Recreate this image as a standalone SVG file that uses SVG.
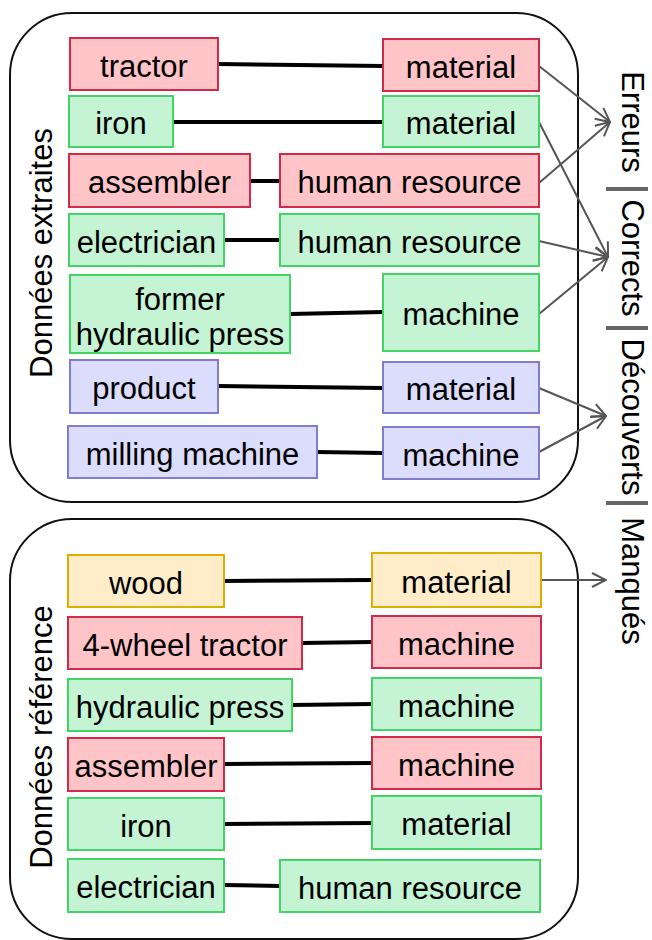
<svg xmlns="http://www.w3.org/2000/svg" width="652" height="940" viewBox="0 0 652 940">
<defs>
<style>
text{font-family:"Liberation Sans",Arial,sans-serif;font-size:31px;fill:#000;}
.lbl{text-anchor:middle;}
.box{fill:none;stroke:#111;stroke-width:2;}
.r{fill:#ffc4c8;stroke:#d42a4a;stroke-width:2;}
.g{fill:#c4f4d4;stroke:#44d466;stroke-width:2;}
.b{fill:#dcdcfc;stroke:#7e7ecc;stroke-width:2;}
.y{fill:#ffecc8;stroke:#dcb000;stroke-width:2;}
.e{stroke:#000;stroke-width:4;fill:none;}
.a{stroke:#555;stroke-width:2;fill:none;marker-end:url(#arr);}
.sep{stroke:#666;stroke-width:4;}
</style>
<marker id="arr" viewBox="0 0 16 16" refX="15" refY="8" markerWidth="16" markerHeight="16" markerUnits="userSpaceOnUse" orient="auto">
<path d="M1,1 L15,8 L1,15" fill="none" stroke="#555" stroke-width="2"/>
</marker>
</defs>

<g id="containers">
<rect class="box" x="10" y="13" width="568" height="489" rx="62" ry="62"/>
<rect class="box" x="10" y="519" width="568" height="420" rx="62" ry="62"/>
<text class="lbl" transform="translate(52,253) rotate(-90)">Données extraites</text>
<text class="lbl" transform="translate(52,737) rotate(-90)">Données référence</text>
</g>

<g id="connectors">
<line class="e" x1="218" y1="64" x2="383" y2="66"/>
<line class="e" x1="173" y1="122" x2="383" y2="122"/>
<line class="e" x1="250" y1="181" x2="280" y2="181"/>
<line class="e" x1="224" y1="240" x2="280" y2="240"/>
<line class="e" x1="290" y1="314" x2="383" y2="312"/>
<line class="e" x1="218" y1="386" x2="383" y2="388"/>
<line class="e" x1="317" y1="452" x2="383" y2="453"/>
<line class="e" x1="224" y1="581" x2="372" y2="580"/>
<line class="e" x1="302" y1="643" x2="372" y2="642"/>
<line class="e" x1="292" y1="705" x2="372" y2="704"/>
<line class="e" x1="224" y1="764" x2="372" y2="763"/>
<line class="e" x1="224" y1="824" x2="372" y2="823"/>
<line class="e" x1="224" y1="885" x2="280" y2="886"/>
<line class="a" x1="539" y1="66" x2="610" y2="122"/>
<line class="a" x1="539" y1="183" x2="610" y2="122"/>
<line class="a" x1="539" y1="122" x2="608" y2="257"/>
<line class="a" x1="539" y1="241" x2="608" y2="257"/>
<line class="a" x1="539" y1="314" x2="608" y2="257"/>
<line class="a" x1="539" y1="388" x2="606" y2="416"/>
<line class="a" x1="539" y1="452" x2="606" y2="416"/>
<line class="a" x1="541" y1="580" x2="606" y2="580"/>
</g>

<g id="n1"><rect class="r" x="70" y="38" width="148" height="52"/><text class="lbl" x="144" y="77">tractor</text></g>
<g id="n2"><rect class="r" x="383" y="39" width="156" height="52"/><text class="lbl" x="461" y="78">material</text></g>
<g id="n3"><rect class="g" x="69" y="96" width="104" height="51"/><text class="lbl" x="121" y="134">iron</text></g>
<g id="n4"><rect class="g" x="383" y="96" width="156" height="51"/><text class="lbl" x="461" y="134">material</text></g>
<g id="n5"><rect class="r" x="69" y="154" width="181" height="53"/><text class="lbl" x="159.5" y="193">assembler</text></g>
<g id="n6"><rect class="r" x="280" y="154" width="259" height="53"/><text class="lbl" x="409.5" y="193">human resource</text></g>
<g id="n7"><rect class="g" x="69" y="214" width="155" height="52"/><text class="lbl" x="146.5" y="253">electrician</text></g>
<g id="n8"><rect class="g" x="280" y="214" width="259" height="52"/><text class="lbl" x="409.5" y="253">human resource</text></g>
<g id="n9"><rect class="g" x="70" y="275" width="220" height="78"/><text class="lbl" x="180" y="310">former</text><text class="lbl" x="180" y="345">hydraulic press</text></g>
<g id="n10"><rect class="g" x="383" y="274" width="156" height="77"/><text class="lbl" x="461" y="325">machine</text></g>
<g id="n11"><rect class="b" x="70" y="360" width="148" height="53"/><text class="lbl" x="144" y="399">product</text></g>
<g id="n12"><rect class="b" x="383" y="362" width="156" height="51"/><text class="lbl" x="461" y="400">material</text></g>
<g id="n13"><rect class="b" x="68" y="426" width="249" height="52"/><text class="lbl" x="192.5" y="465">milling machine</text></g>
<g id="n14"><rect class="b" x="383" y="427" width="156" height="52"/><text class="lbl" x="461" y="466">machine</text></g>

<g id="n15"><rect class="y" x="68" y="555" width="156" height="52"/><text class="lbl" x="146" y="594">wood</text></g>
<g id="n16"><rect class="y" x="372" y="553" width="169" height="54"/><text class="lbl" x="456.5" y="593">material</text></g>
<g id="n17"><rect class="r" x="68" y="617" width="234" height="52"/><text class="lbl" x="185" y="656">4-wheel tractor</text></g>
<g id="n18"><rect class="r" x="372" y="616" width="169" height="52"/><text class="lbl" x="456.5" y="655">machine</text></g>
<g id="n19"><rect class="g" x="68" y="679" width="224" height="52"/><text class="lbl" x="180" y="718">hydraulic press</text></g>
<g id="n20"><rect class="g" x="372" y="678" width="169" height="52"/><text class="lbl" x="456.5" y="717">machine</text></g>
<g id="n21"><rect class="r" x="68" y="738" width="156" height="53"/><text class="lbl" x="146" y="777">assembler</text></g>
<g id="n22"><rect class="r" x="372" y="737" width="169" height="52"/><text class="lbl" x="456.5" y="776">machine</text></g>
<g id="n23"><rect class="g" x="68" y="798" width="156" height="52"/><text class="lbl" x="146" y="837">iron</text></g>
<g id="n24"><rect class="g" x="372" y="796" width="169" height="53"/><text class="lbl" x="456.5" y="835">material</text></g>
<g id="n25"><rect class="g" x="68" y="859" width="156" height="53"/><text class="lbl" x="146" y="898">electrician</text></g>
<g id="n26"><rect class="g" x="280" y="860" width="260" height="52"/><text class="lbl" x="410" y="899">human resource</text></g>

<g id="categories">
<text class="lbl" transform="translate(622,122) rotate(90)">Erreurs</text>
<text class="lbl" transform="translate(622,258) rotate(90)">Corrects</text>
<text class="lbl" transform="translate(622,417) rotate(90)">Découverts</text>
<text class="lbl" transform="translate(622,581) rotate(90)">Manqués</text>
<line class="sep" x1="606" y1="189" x2="648" y2="189"/>
<line class="sep" x1="606" y1="328" x2="648" y2="328"/>
<line class="sep" x1="606" y1="503" x2="648" y2="503"/>
</g>
</svg>
